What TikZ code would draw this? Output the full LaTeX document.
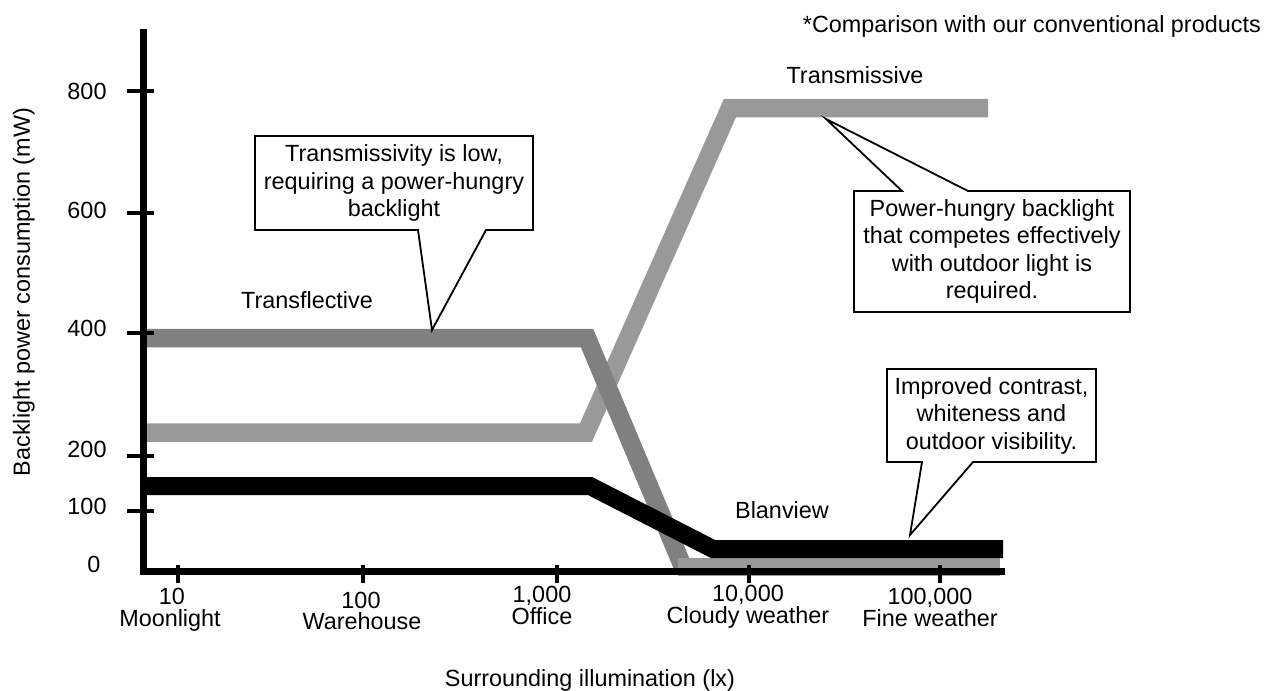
\documentclass[tikz,border=0pt]{standalone}
\usepackage{fontspec}
\setmainfont{Liberation Sans}
\begin{document}
\begin{tikzpicture}[x=1pt,y=-1pt,
  font=\fontsize{23.4}{27.5}\selectfont,
  band/.style={line width=18.5pt, line join=miter, line cap=butt},
  callout/.style={draw=black, fill=white, line width=1.8pt, line join=miter},
  lbl/.style={inner sep=0pt, anchor=base},
  numlbl/.style={inner sep=0pt, anchor=base, text depth=0pt},
  namelbl/.style={inner sep=0pt, anchor=base, text height=14pt},
  boxtext/.style={inner sep=0pt, align=center},
  tickline/.style={line width=4.5pt},
  axisline/.style={line width=7pt, line join=miter, line cap=butt}]
\definecolor{tmgray}{HTML}{999999}
\definecolor{tfgray}{HTML}{808080}
\useasboundingbox (0,0) rectangle (1267,691);

% data lines
\draw[band, tmgray] (143,432.5) -- (586,432.5) -- (730,108) -- (988,108);
\draw[band, tfgray] (143,338) -- (587,338) -- (683,567);
\draw[band, tmgray] (678,567) -- (1000,567);
\draw[band, black, line width=18pt] (143,486) -- (590,486) -- (713,549) -- (1003,549);

% axes
\draw[axisline] (143.5,29) -- (143.5,571.5) -- (1005,571.5);
\foreach \yy in {91,213,333,456,511} \draw[tickline] (127,\yy) -- (154,\yy);
\foreach \xx in {178,363,557,749,940} \draw[tickline] (\xx,565) -- (\xx,583);

% y tick labels
\node[lbl] (y800) at (87,99) {800};
\node[lbl] (y600) at (87,218) {600};
\node[lbl] (y400) at (87,336) {400};
\node[lbl] (y200) at (87,457) {200};
\node[lbl] (y100) at (87,514) {100};
\node[lbl] (y0) at (94,572) {0};

% x tick labels
\node[numlbl] (x10) at (172,604) {10};
\node[namelbl] (x10n) at (170,626) {Moonlight};
\node[numlbl] (x100) at (361,608) {100};
\node[namelbl] (x100n) at (362,629) {Warehouse};
\node[numlbl] (x1k) at (542,602) {1,000};
\node[namelbl] (x1kn) at (542,624) {Office};
\node[numlbl] (x10k) at (748,601) {10,000};
\node[namelbl] (x10kn) at (748,623) {Cloudy weather};
\node[numlbl] (x100k) at (930,604) {100,000};
\node[namelbl] (x100kn) at (930,626) {Fine weather};

% axis titles
\node[lbl] (xtitle) at (590,686) {Surrounding illumination (lx)};
\node[lbl, rotate=90] (ytitle) at (30,292) {Backlight power consumption (mW)};

% series labels
\node[lbl] (ltm) at (855,83) {Transmissive};
\node[lbl] (ltf) at (307,308) {Transflective};
\node[lbl] (lbv) at (782,518) {Blanview};
\node[lbl, anchor=base east] (note) at (1261,32) {*Comparison with our conventional products};

% callouts
\draw[callout] (255,136) -- (533,136) -- (533,230) -- (486,230) -- (432,330) -- (418,230) -- (255,230) -- cycle;
\node[boxtext] (c1) at (394,183) {Transmissivity is low,\\requiring a power-hungry\\backlight};

\draw[callout] (854,191) -- (902,191) -- (826,119) -- (968,191) -- (1130,191) -- (1130,312) -- (854,312) -- cycle;
\node[boxtext] (c2) at (992,251.5) {Power-hungry backlight\\that competes effectively\\with outdoor light is\\required.};

\draw[callout] (887,369) -- (1096,369) -- (1096,462) -- (973,462) -- (910,535) -- (922,462) -- (887,462) -- cycle;
\node[boxtext] (c3) at (991.5,415.5) {Improved contrast,\\whiteness and\\outdoor visibility.};
\end{tikzpicture}
\end{document}
